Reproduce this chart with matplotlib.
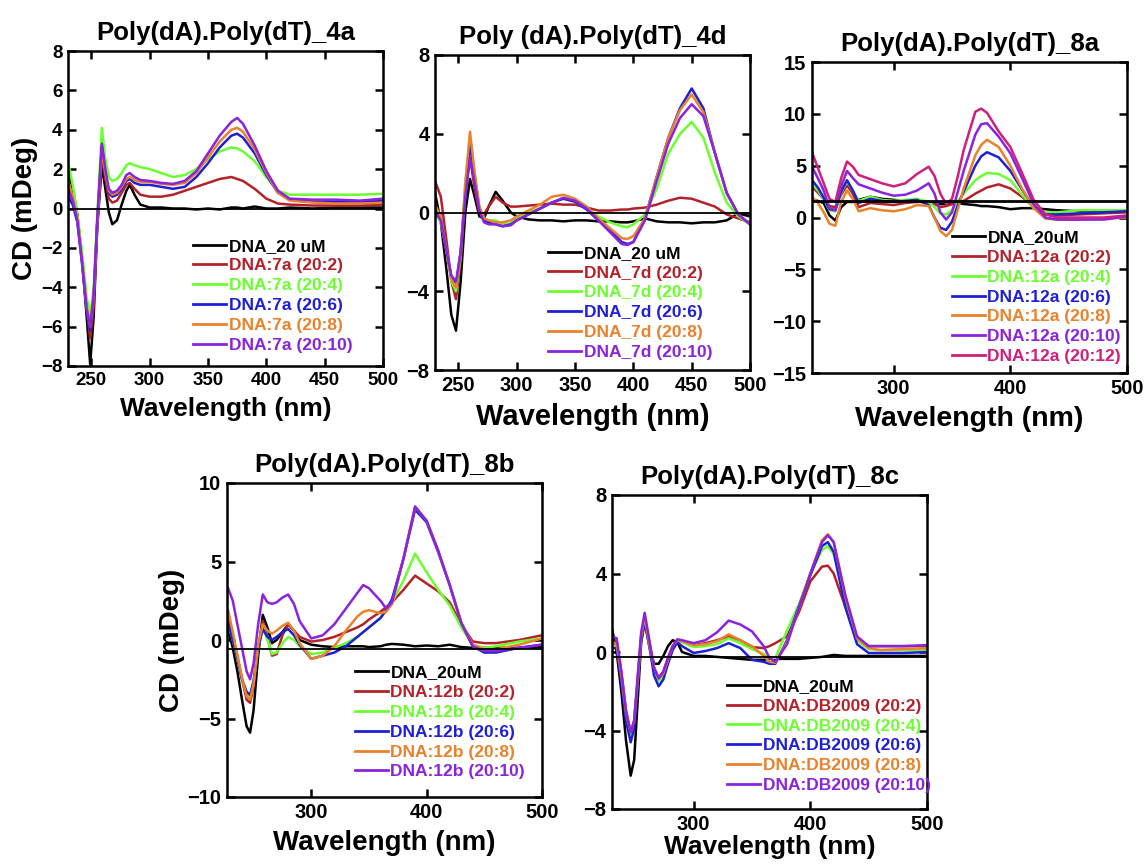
import matplotlib
matplotlib.use("Agg")
import matplotlib.pyplot as plt

plt.rcParams['font.family'] = ['Liberation Sans', 'DejaVu Sans']
plt.rcParams['font.weight'] = 'bold'

# ---------------- colours ----------------
C_BLACK = '#000000'
C_RED = '#b3222a'
C_GREEN = '#6cff30'
C_BLUE = '#1f1fd6'
C_ORANGE = '#e8822c'
C_PURPLE = '#8a24dc'
C_MAGENTA = '#cf1f7c'

# ---------------- Panel 4a ----------------
wl_4a = [230, 234, 238, 242, 246, 249, 252, 255, 259, 262, 265, 268, 272, 276, 280, 283, 287, 292,
         300, 310, 320, 330, 340, 350, 360, 370, 375, 380, 390, 400, 410, 420, 440, 460, 480, 500]
dna_4a = [2.0, 1.0, -0.3, -2.5, -5.5, -7.9, -5.5, -1.0, 2.2, 1.0, -0.2, -0.8, -0.6, 0.2, 0.9, 1.2, 0.7, 0.2,
          0.05, 0.05, 0.0, 0.0, -0.05, 0.0, -0.05, 0.05, 0.05, 0.0, 0.1, 0.0, 0.0, 0.05, 0.0, 0.05, 0.05, 0.05]
r2_4a = [1.2, 0.6, -0.5, -2.5, -5.0, -6.6, -5.0, -1.0, 2.7, 1.5, 0.5, 0.3, 0.4, 0.8, 1.2, 1.3, 1.0, 0.7,
         0.6, 0.6, 0.7, 0.9, 1.1, 1.3, 1.5, 1.6, 1.5, 1.4, 1.0, 0.5, 0.25, 0.2, 0.15, 0.15, 0.15, 0.2]
r4_4a = [2.4, 1.2, -0.3, -2.2, -4.5, -5.5, -4.0, -0.5, 4.1, 2.5, 1.6, 1.4, 1.5, 1.8, 2.2, 2.3, 2.2, 2.1,
         2.0, 1.8, 1.6, 1.7, 2.0, 2.5, 2.9, 3.1, 3.05, 2.9, 2.4, 1.6, 0.9, 0.7, 0.7, 0.7, 0.7, 0.75]
r6_4a = [0.6, 0.2, -0.7, -2.8, -5.2, -6.2, -4.5, -0.8, 3.2, 1.8, 0.8, 0.6, 0.7, 1.0, 1.4, 1.5, 1.3, 1.2,
         1.2, 1.1, 1.0, 1.1, 1.6, 2.3, 3.1, 3.7, 3.8, 3.6, 2.8, 1.7, 0.8, 0.45, 0.35, 0.35, 0.35, 0.4]
r8_4a = [1.4, 0.6, -0.5, -2.6, -5.0, -6.0, -4.5, -0.8, 3.0, 1.8, 0.9, 0.7, 0.8, 1.1, 1.5, 1.6, 1.45, 1.35,
         1.35, 1.25, 1.2, 1.3, 1.8, 2.6, 3.4, 4.0, 4.1, 3.9, 3.0, 1.8, 0.8, 0.4, 0.3, 0.25, 0.25, 0.3]
r10_4a = [1.0, 0.4, -0.6, -2.7, -5.1, -6.0, -4.4, -0.6, 3.3, 2.0, 1.0, 0.8, 0.9, 1.2, 1.7, 1.8, 1.6, 1.45,
          1.4, 1.3, 1.25, 1.4, 1.9, 2.8, 3.7, 4.4, 4.6, 4.3, 3.2, 1.9, 0.9, 0.5, 0.45, 0.45, 0.4, 0.5]
labels_4a = ['DNA_20 uM', 'DNA:7a (20:2)', 'DNA:7a (20:4)', 'DNA:7a (20:6)', 'DNA:7a (20:8)', 'DNA:7a (20:10)']

# ---------------- Panel 4d ----------------
wl_4d = [230, 235, 240, 244, 248, 252, 256, 260, 264, 268, 272, 276, 282, 288, 295, 300, 310, 320, 330,
         340, 350, 360, 370, 380, 390, 395, 400, 410, 420, 430, 440, 450, 460, 470, 480, 490, 500]
dna_4d = [1.0, -0.5, -3.0, -5.2, -6.0, -3.5, 0.0, 1.7, 0.8, -0.2, -0.3, 0.3, 1.05, 0.6, 0.0, -0.2, -0.35, -0.4, -0.4,
          -0.45, -0.4, -0.4, -0.45, -0.45, -0.5, -0.5, -0.45, -0.3, -0.45, -0.5, -0.5, -0.55, -0.5, -0.5, -0.4, -0.05, -0.2]
r2_4d = [1.6, 0.8, -1.5, -3.5, -4.4, -2.5, 1.0, 2.8, 1.2, 0.0, -0.1, 0.3, 0.8, 0.5, 0.3, 0.3, 0.35, 0.4, 0.45,
         0.4, 0.4, 0.25, 0.1, 0.1, 0.15, 0.15, 0.2, 0.25, 0.4, 0.6, 0.75, 0.7, 0.5, 0.3, -0.1, -0.3, -0.5]
r4_4d = [0.0, -0.5, -2.0, -3.5, -4.0, -2.2, 1.5, 3.8, 2.0, 0.3, -0.3, -0.4, -0.4, -0.6, -0.55, -0.3, 0.0, 0.2, 0.5,
         0.7, 0.55, 0.2, -0.2, -0.5, -0.7, -0.75, -0.6, -0.1, 1.2, 3.0, 4.0, 4.6, 3.8, 2.0, 0.5, -0.2, -0.6]
r6_4d = [0.2, -0.3, -2.0, -3.3, -3.7, -2.0, 1.0, 3.5, 1.8, 0.2, -0.4, -0.5, -0.6, -0.7, -0.6, -0.4, -0.1, 0.2, 0.5,
         0.7, 0.55, 0.15, -0.4, -0.9, -1.5, -1.6, -1.5, -0.3, 1.8, 3.8, 5.3, 6.3, 5.3, 3.0, 1.0, -0.1, -0.6]
r8_4d = [0.4, -0.2, -2.0, -3.4, -3.8, -2.0, 1.5, 4.1, 2.0, 0.3, -0.3, -0.4, -0.5, -0.5, -0.4, -0.2, 0.1, 0.4, 0.8,
         0.9, 0.7, 0.3, -0.3, -0.8, -1.3, -1.35, -1.2, -0.3, 1.8, 3.8, 5.2, 6.0, 5.1, 3.0, 1.0, -0.1, -0.6]
r10_4d = [0.0, -0.4, -2.0, -3.2, -3.5, -2.0, 0.8, 2.8, 1.5, 0.1, -0.5, -0.6, -0.6, -0.7, -0.65, -0.4, -0.1, 0.2, 0.5,
          0.75, 0.6, 0.2, -0.4, -1.0, -1.6, -1.65, -1.5, -0.4, 1.6, 3.5, 4.8, 5.5, 4.9, 3.0, 1.0, -0.1, -0.6]
labels_4d = ['DNA_20 uM', 'DNA_7d (20:2)', 'DNA_7d (20:4)', 'DNA_7d (20:6)', 'DNA_7d (20:8)', 'DNA_7d (20:10)']

# ---------------- Panel 8a ----------------
wl_8a = [230, 235, 240, 245, 250, 255, 260, 265, 270, 280, 290, 300, 310, 320, 330, 335, 340, 345, 350, 355,
         360, 370, 375, 380, 390, 400, 410, 420, 430, 440, 460, 480, 500]
dna_8a = [1.7, 1.6, 1.4, 0.2, -0.3, 1.0, 1.5, 1.5, 1.7, 2.0, 1.8, 1.7, 1.6, 1.6, 1.5, 1.4, 1.3, 1.3, 1.3, 1.4,
          1.3, 1.2, 1.1, 1.1, 1.0, 0.8, 0.9, 0.9, 0.8, 0.7, 0.6, 0.5, 0.6]
r2_8a = [3.0, 2.4, 1.8, 1.1, 1.0, 2.2, 3.1, 2.3, 1.0, 1.4, 1.3, 1.2, 1.4, 1.5, 1.5, 1.3, 1.0, 1.1, 1.3, 1.5,
         1.6, 2.3, 2.6, 2.9, 3.2, 2.8, 2.0, 1.0, 0.3, 0.2, 0.3, 0.4, 0.5]
r4_8a = [3.3, 2.6, 1.8, 0.7, 0.6, 2.4, 3.5, 2.6, 1.6, 2.0, 1.7, 1.6, 1.7, 1.8, 1.5, 1.0, 0.4, 0.3, 0.7, 1.6,
         2.3, 3.6, 4.0, 4.3, 4.2, 3.6, 2.2, 0.9, 0.5, 0.5, 0.7, 0.7, 0.7]
r6_8a = [3.6, 2.9, 1.9, 0.8, 0.7, 2.5, 3.6, 2.6, 1.4, 1.8, 1.6, 1.5, 1.6, 1.7, 1.2, 0.0, -1.0, -1.2, -0.4, 1.2,
         2.5, 5.0, 5.9, 6.3, 5.8, 4.5, 2.7, 1.0, 0.3, 0.3, 0.4, 0.5, 0.6]
r8_8a = [2.0, 1.4, 0.5, -0.6, -0.8, 1.5, 2.6, 1.8, 0.6, 0.9, 0.7, 0.6, 0.8, 1.2, 1.1, 0.0, -1.3, -1.8, -1.2, 0.8,
         2.8, 6.0, 7.0, 7.5, 6.8, 5.0, 2.8, 0.9, -0.1, -0.2, -0.2, -0.1, 0.0]
r10_8a = [4.9, 3.8, 2.6, 0.9, 0.7, 3.0, 4.5, 3.8, 3.2, 2.8, 2.4, 2.1, 2.2, 2.6, 3.3, 2.3, 0.5, -0.2, 0.5, 2.5,
          4.5, 8.0, 9.0, 9.1, 7.8, 6.2, 3.8, 1.3, 0.0, -0.2, -0.2, -0.2, 0.1]
r12_8a = [6.3, 4.8, 3.3, 1.8, 1.5, 3.8, 5.4, 4.9, 4.1, 3.7, 3.3, 3.0, 3.3, 4.2, 4.9, 4.0, 2.3, 1.3, 1.8, 4.0,
          6.5, 10.2, 10.5, 10.1, 8.3, 6.8, 4.3, 1.7, 0.3, 0.0, 0.0, 0.0, 0.2]
labels_8a = ['DNA_20uM', 'DNA:12a (20:2)', 'DNA:12a (20:4)', 'DNA:12a (20:6)', 'DNA:12a (20:8)',
             'DNA:12a (20:10)', 'DNA:12a (20:12)']

# ---------------- Panel 8b ----------------
wl_8b = [228, 232, 236, 240, 244, 247, 250, 254, 258, 262, 266, 270, 275, 280, 285, 290, 300, 310, 320, 330,
         340, 345, 350, 360, 365, 370, 380, 390, 400, 410, 420, 430, 440, 450, 460, 480, 500]
dna_8b = [0.6, -0.5, -2.0, -3.8, -5.5, -5.9, -4.5, -1.0, 1.6, 0.8, -0.2, 0.0, 0.5, 1.0, 0.6, 0.0, -0.3, -0.4, -0.45, -0.4,
          -0.4, -0.4, -0.45, -0.4, -0.3, -0.25, -0.3, -0.4, -0.35, -0.4, -0.3, -0.45, -0.5, -0.5, -0.5, -0.5, -0.45]
r2_8b = [1.6, 0.3, -1.0, -2.5, -3.8, -4.0, -3.0, -0.5, 1.2, 0.2, -1.0, -0.9, 0.3, 1.0, 0.6, 0.2, -0.1, 0.0, 0.2, 0.5,
         0.8, 1.0, 1.3, 1.8, 2.1, 2.4, 3.2, 4.1, 3.6, 3.1, 2.4, 1.0, -0.1, -0.2, -0.2, 0.0, 0.3]
r4_8b = [1.0, 0.0, -1.2, -2.5, -3.4, -3.6, -2.7, -0.5, 0.9, 0.0, -0.9, -0.8, -0.2, 0.2, 0.0, -0.4, -0.9, -0.8, -0.5, -0.2,
         0.2, 0.5, 0.8, 1.4, 1.9, 2.4, 3.8, 5.5, 4.3, 3.2, 2.2, 0.8, -0.3, -0.5, -0.4, -0.1, 0.1]
r6_8b = [1.1, 0.0, -1.2, -2.5, -3.3, -3.5, -2.6, -0.5, 0.7, 0.2, 0.0, 0.2, 0.5, 0.7, 0.3, -0.3, -1.2, -1.0, -0.8, -0.4,
         0.2, 0.5, 0.8, 1.4, 1.9, 2.6, 5.2, 8.3, 7.5, 5.6, 3.5, 1.1, -0.4, -0.8, -0.8, -0.5, -0.3]
r8_8b = [1.9, 0.5, -1.0, -2.4, -3.6, -3.8, -2.8, -0.3, 1.0, 0.6, 0.4, 0.6, 0.9, 1.1, 0.6, -0.2, -1.2, -1.0, -0.4, 0.6,
         1.5, 1.8, 1.9, 1.7, 1.8, 2.3, 5.2, 8.5, 7.6, 5.7, 3.5, 1.1, -0.3, -0.6, -0.6, -0.3, 0.1]
r10_8b = [3.3, 2.5, 1.0, -0.5, -2.0, -2.5, -1.5, 1.0, 2.9, 2.4, 2.3, 2.4, 2.7, 2.9, 2.3, 1.2, 0.1, 0.3, 1.0, 2.0,
          3.0, 3.5, 3.3, 2.5, 2.0, 2.4, 5.2, 8.5, 7.6, 5.7, 3.5, 1.1, -0.4, -0.7, -0.7, -0.5, -0.3]
labels_8b = ['DNA_20uM', 'DNA:12b (20:2)', 'DNA:12b (20:4)', 'DNA:12b (20:6)', 'DNA:12b (20:8)', 'DNA:12b (20:10)']

# ---------------- Panel 8c ----------------
wl_8c = [230, 234, 238, 242, 246, 249, 252, 255, 258, 262, 266, 270, 274, 278, 282, 286, 290, 300, 310, 320,
         330, 340, 350, 360, 365, 370, 380, 390, 400, 410, 415, 420, 430, 440, 450, 460, 480, 500]
dna_8c = [1.2, 0.0, -2.0, -4.5, -6.3, -5.5, -2.5, 0.5, 1.5, 0.3, -0.6, -0.6, -0.2, 0.3, 0.6, 0.5, 0.0, -0.2, -0.2, -0.25,
          -0.3, -0.35, -0.4, -0.4, -0.35, -0.35, -0.35, -0.35, -0.3, -0.25, -0.2, -0.15, -0.2, -0.2, -0.2, -0.2, -0.2, -0.2]
r2_8c = [0.5, 0.5, -1.0, -3.0, -4.1, -3.5, -1.5, 0.8, 1.7, 0.5, -0.8, -1.3, -1.0, -0.3, 0.3, 0.6, 0.55, 0.35, 0.45, 0.6,
         0.8, 0.6, 0.25, 0.2, 0.3, 0.45, 0.8, 2.0, 3.6, 4.35, 4.4, 4.0, 2.3, 0.6, 0.3, 0.3, 0.3, 0.3]
r4_8c = [0.3, 0.3, -1.3, -3.2, -4.2, -3.6, -1.5, 0.7, 1.6, 0.3, -1.0, -1.5, -1.2, -0.5, 0.2, 0.6, 0.5, 0.25, 0.3, 0.4,
         0.7, 0.45, 0.15, -0.1, -0.3, -0.3, 1.1, 2.4, 4.0, 5.2, 5.4, 5.0, 2.6, 0.6, 0.15, 0.1, 0.1, 0.1]
r6_8c = [0.2, 0.2, -1.5, -3.5, -4.6, -3.9, -1.6, 0.6, 1.6, 0.3, -1.2, -1.75, -1.4, -0.6, 0.1, 0.5, 0.3, -0.05, 0.05, 0.2,
         0.45, 0.2, -0.4, -0.5, -0.6, -0.6, 0.6, 2.3, 3.9, 5.4, 5.6, 5.1, 2.3, 0.4, -0.05, -0.05, -0.05, 0.0]
r8_8c = [0.5, 0.4, -1.2, -3.1, -4.1, -3.5, -1.4, 0.8, 1.8, 0.4, -0.8, -1.35, -1.1, -0.4, 0.3, 0.6, 0.55, 0.35, 0.4, 0.55,
         0.9, 0.6, 0.3, -0.2, -0.5, -0.55, 0.5, 2.2, 4.0, 5.7, 6.0, 5.6, 2.8, 0.7, 0.2, 0.1, 0.15, 0.2]
r10_8c = [0.8, 0.7, -1.0, -3.0, -4.1, -3.5, -1.2, 1.0, 2.0, 0.6, -0.8, -1.35, -1.0, -0.3, 0.3, 0.65, 0.6, 0.45, 0.6, 1.0,
          1.6, 1.4, 1.05, 0.3, -0.3, -0.5, 0.4, 2.2, 4.0, 5.6, 5.95, 5.6, 2.9, 0.8, 0.3, 0.3, 0.3, 0.35]
labels_8c = ['DNA_20uM', 'DNA:DB2009 (20:2)', 'DNA:DB2009 (20:4)', 'DNA:DB2009 (20:6)', 'DNA:DB2009 (20:8)',
             'DNA:DB2009 (20:10)']

# baseline (horizontal reference line) levels
base_4a, base_4d, base_8a, base_8b, base_8c = 0.0, -0.05, 1.6, -0.55, -0.26

W, H = 1148, 865
fig = plt.figure(figsize=(W / 100, H / 100), dpi=100)


def px_axes(l, t, r, b):
    return fig.add_axes([l / W, 1 - b / H, (r - l) / W, (b - t) / H])


def draw_panel(ax, wl, series, colors, labels, base, title, xlim, ylim, xticks, yticks,
               tick_fs, xlab_fs, leg_anchor, ylabel=False, base_lw=1.3, xlab_pad=6):
    for y, c, lab in zip(series, colors, labels):
        ax.plot(wl, y, color=c, lw=1.8, label=lab, solid_joinstyle='round')
    ax.axhline(base, color='black', lw=base_lw, zorder=3)
    ax.set_xlim(*xlim)
    ax.set_ylim(*ylim)
    ax.set_xticks(xticks)
    ax.set_yticks(yticks)
    ax.tick_params(direction='in', length=6, width=1.8, top=True, right=True,
                   labelsize=tick_fs, pad=4)
    for lab in ax.get_xticklabels() + ax.get_yticklabels():
        lab.set_fontweight('bold')
    for s in ax.spines.values():
        s.set_linewidth(1.8)
    ax.set_title(title, fontsize=18.5, fontweight='bold', pad=8)
    ax.set_xlabel('Wavelength (nm)', fontsize=xlab_fs, fontweight='bold', labelpad=xlab_pad)
    if ylabel:
        ax.set_ylabel('CD (mDeg)', fontsize=20, fontweight='bold', labelpad=2)
    leg = ax.legend(loc='upper left', bbox_to_anchor=leg_anchor, frameon=False,
                    prop={'size': 12.5, 'weight': 'bold'}, labelcolor='linecolor',
                    handlelength=1.9, handletextpad=0.15, labelspacing=0.27,
                    borderpad=0, borderaxespad=0)
    for line in leg.get_lines():
        line.set_linewidth(2.0)


cols6 = [C_BLACK, C_RED, C_GREEN, C_BLUE, C_ORANGE, C_PURPLE]
cols7 = cols6 + [C_MAGENTA]

ax1 = px_axes(68, 51, 383, 366)
draw_panel(ax1, wl_4a, [dna_4a, r2_4a, r4_4a, r6_4a, r8_4a, r10_4a], cols6, labels_4a, base_4a,
           'Poly(dA).Poly(dT)_4a', (230, 500), (-8, 8), [250, 300, 350, 400, 450, 500],
           [-8, -6, -4, -2, 0, 2, 4, 6, 8], 13.5, 19, (0.397, 0.405), ylabel=True)

ax2 = px_axes(435, 55, 750, 370)
draw_panel(ax2, wl_4d, [dna_4d, r2_4d, r4_4d, r6_4d, r8_4d, r10_4d], cols6, labels_4d, base_4d,
           'Poly (dA).Poly(dT)_4d', (230, 500), (-8, 8), [250, 300, 350, 400, 450, 500],
           [-8, -4, 0, 4, 8], 14.5, 21, (0.359, 0.395))

ax3 = px_axes(812, 62, 1127, 373)
draw_panel(ax3, wl_8a, [dna_8a, r2_8a, r4_8a, r6_8a, r8_8a, r10_8a, r12_8a], cols7, labels_8a, base_8a,
           'Poly(dA).Poly(dT)_8a', (230, 500), (-15, 15), [300, 400, 500],
           [-15, -10, -5, 0, 5, 10, 15], 14.5, 20.5, (0.444, 0.46), base_lw=2.0)

ax4 = px_axes(227, 483, 542, 797)
draw_panel(ax4, wl_8b, [dna_8b, r2_8b, r4_8b, r6_8b, r8_8b, r10_8b], cols6, labels_8b, base_8b,
           'Poly(dA).Poly(dT)_8b', (227, 500), (-10, 10), [300, 400, 500],
           [-10, -5, 0, 5, 10], 14.5, 20, (0.406, 0.42), ylabel=True)

ax5 = px_axes(612, 495, 927, 809)
draw_panel(ax5, wl_8c, [dna_8c, r2_8c, r4_8c, r6_8c, r8_8c, r10_8c], cols6, labels_8c, base_8c,
           'Poly(dA).Poly(dT)_8c', (230, 500), (-8, 8), [300, 400, 500],
           [-8, -4, 0, 4, 8], 14.5, 19, (0.365, 0.415), xlab_pad=1)

fig.savefig('out.png', dpi=100)
